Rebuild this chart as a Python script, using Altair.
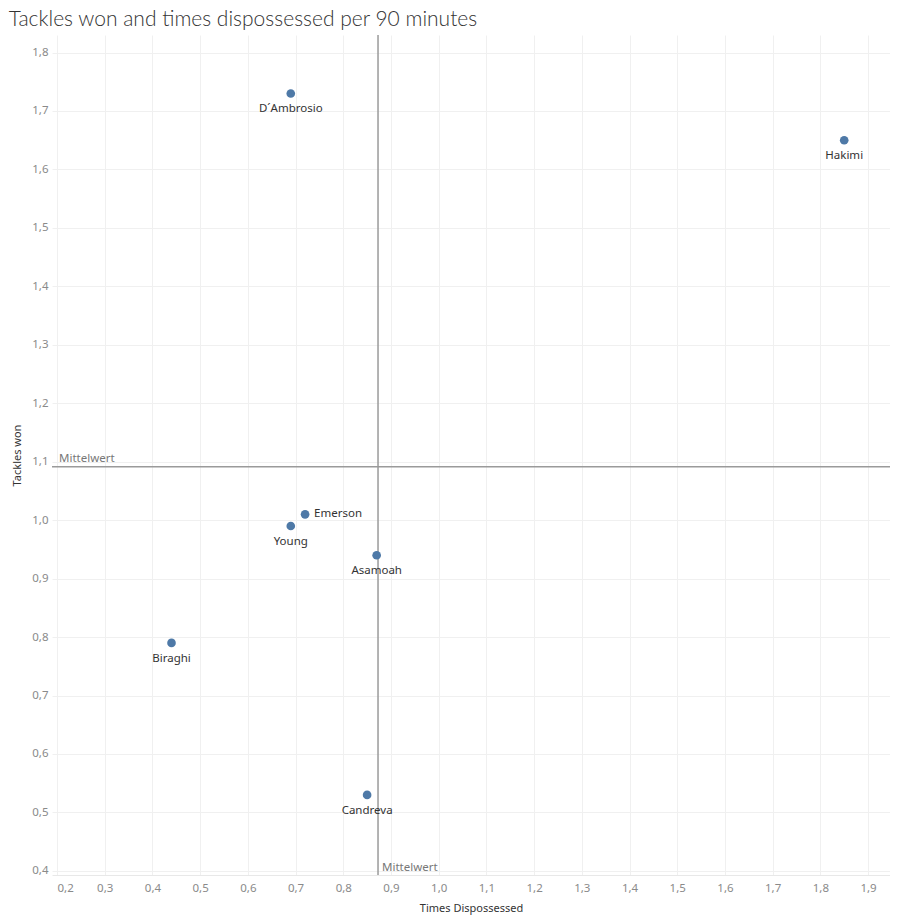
import altair as alt
import pandas as pd

players = ["D´Ambrosio", "Hakimi", "Emerson", "Young", "Asamoah", "Biraghi", "Candreva"]
dispossessed = [0.69, 1.85, 0.72, 0.69, 0.87, 0.44, 0.85]
tackles = [1.73, 1.65, 1.01, 0.99, 0.94, 0.79, 0.53]
x_ticks = [0.2, 0.3, 0.4, 0.5, 0.6, 0.7, 0.8, 0.9, 1.0, 1.1, 1.2, 1.3, 1.4, 1.5, 1.6, 1.7, 1.8, 1.9]
y_ticks = [0.4, 0.5, 0.6, 0.7, 0.8, 0.9, 1.0, 1.1, 1.2, 1.3, 1.4, 1.5, 1.6, 1.7, 1.8]

df = pd.DataFrame({"Player": players, "Times Dispossessed": dispossessed, "Tackles won": tackles})
mean_x = sum(dispossessed) / len(dispossessed)
mean_y = sum(tackles) / len(tackles)
means = pd.DataFrame({"mx": [mean_x], "my": [mean_y], "label": ["Mittelwert"]})

FONT = "Noto Sans"
xs = alt.Scale(domain=[0.1895, 1.946], nice=False, zero=False)
ys = alt.Scale(domain=[0.393, 1.83], nice=False, zero=False)

xax = alt.Axis(values=x_ticks, labelExpr="replace(format(datum.value, '.1f'), '.', ',')",
               title="Times Dispossessed", titleFont=FONT, titleFontSize=11, titleFontWeight="normal",
               titleColor="#333333", titlePadding=9, labelFont=FONT, labelFontSize=11.5,
               labelColor="#8a8a8a", labelPadding=7, ticks=False, domain=True, domainColor="#e8e8e8",
               grid=True, gridColor="#f0f0f0", labelFlush=10)
yax = alt.Axis(values=y_ticks, labelExpr="replace(format(datum.value, '.1f'), '.', ',')",
               title="Tackles won", titleFont=FONT, titleFontSize=11, titleFontWeight="normal",
               titleColor="#333333", titlePadding=9, labelFont=FONT, labelFontSize=11.5,
               labelColor="#8a8a8a", labelPadding=4, ticks=False, domain=False,
               grid=True, gridColor="#f0f0f0")

base = alt.Chart(df)
points = base.mark_circle(size=75, opacity=1, color="#4e79a7").encode(
    x=alt.X("Times Dispossessed:Q", scale=xs, axis=xax),
    y=alt.Y("Tackles won:Q", scale=ys, axis=yax),
)
labels_below = base.transform_filter("datum.Player != 'Emerson'").mark_text(
    font=FONT, fontSize=11.5, color="#333333", dy=16, baseline="middle", align="center"
).encode(x=alt.X("Times Dispossessed:Q", scale=xs), y=alt.Y("Tackles won:Q", scale=ys), text="Player:N")
labels_right = base.transform_filter("datum.Player == 'Emerson'").mark_text(
    font=FONT, fontSize=11.5, color="#333333", dx=9, baseline="middle", align="left"
).encode(x=alt.X("Times Dispossessed:Q", scale=xs), y=alt.Y("Tackles won:Q", scale=ys), text="Player:N")

mb = alt.Chart(means)
vline = mb.mark_rule(color="#9a9a9a", strokeWidth=1.5).encode(x=alt.X("mx:Q", scale=xs))
hline = mb.mark_rule(color="#9a9a9a", strokeWidth=1.5).encode(y=alt.Y("my:Q", scale=ys))
vlabel = mb.mark_text(font=FONT, fontSize=11.5, color="#777777", align="left", baseline="bottom", dx=4).encode(
    x=alt.X("mx:Q", scale=xs), y=alt.value(838), text="label:N")
hlabel = mb.mark_text(font=FONT, fontSize=11.5, color="#777777", align="left", baseline="bottom", dy=-3).encode(
    x=alt.value(7), y=alt.Y("my:Q", scale=ys), text="label:N")

chart = alt.layer(vline, hline, vlabel, hlabel, points, labels_below, labels_right).properties(
    width=838, height=840,
    title=alt.TitleParams("Tackles won and times dispossessed per 90 minutes", anchor="start",
                          font="Lato", fontSize=21, fontWeight=300, color="#333333",
                          offset=4, dx=-3),
    autosize=alt.AutoSizeParams(type="none"),
    padding={"left": 44, "top": 27, "right": 0, "bottom": 42},
).configure_view(stroke=None)

chart.save("out.html", embed_options={"renderer": "svg", "actions": False})
